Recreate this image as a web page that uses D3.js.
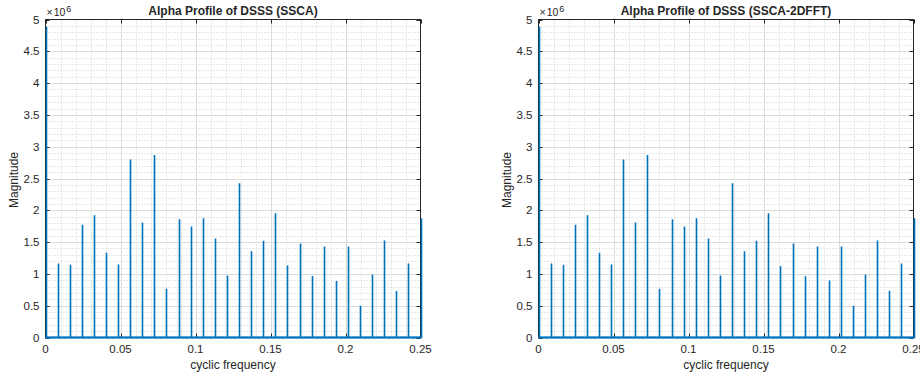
<!DOCTYPE html>
<html>
<head>
<meta charset="utf-8">
<script src="https://cdn.jsdelivr.net/npm/d3@7"></script>
<style>
  body { margin: 0; background: #fff; }
  svg { display: block; }
  text { font-family: "Liberation Sans", Arial, Helvetica, sans-serif; fill: #262626; }
</style>
</head>
<body>
<svg id="chart" width="920" height="376"></svg>
<script>
// Cyclic frequencies of the spectral lines (alpha)
const cyclicFreq = [0, 0.00806, 0.01613, 0.02419, 0.03226, 0.04032, 0.04839, 0.05645,
  0.06452, 0.07258, 0.08065, 0.08871, 0.09677, 0.10484, 0.11290, 0.12097,
  0.12903, 0.13710, 0.14516, 0.15323, 0.16129, 0.16935, 0.17742, 0.18548,
  0.19355, 0.20161, 0.20968, 0.21774, 0.22581, 0.23387, 0.24194, 0.25];

// Alpha profile magnitudes, in units of 1e6
const magSSCA = [4.89, 1.163, 1.142, 1.774, 1.921, 1.332, 1.147, 2.80,
  1.81, 2.868, 0.768, 1.858, 1.747, 1.874, 1.558, 0.974,
  2.426, 1.358, 1.521, 1.953, 1.132, 1.479, 0.968, 1.432,
  0.889, 1.432, 0.50, 0.989, 1.526, 0.732, 1.163, 1.874];

const magSSCA2DFFT = [4.89, 1.163, 1.142, 1.774, 1.921, 1.332, 1.147, 2.80,
  1.81, 2.868, 0.768, 1.858, 1.747, 1.874, 1.558, 0.974,
  2.426, 1.358, 1.521, 1.953, 1.126, 1.479, 0.963, 1.432,
  0.895, 1.432, 0.50, 0.989, 1.526, 0.737, 1.163, 1.874];

const xTicks = [0, 0.05, 0.1, 0.15, 0.2, 0.25];
const xTickLabels = ["0", "0.05", "0.1", "0.15", "0.2", "0.25"];
const yTicks = [0, 0.5, 1, 1.5, 2, 2.5, 3, 3.5, 4, 4.5, 5];
const yTickLabels = ["0", "0.5", "1", "1.5", "2", "2.5", "3", "3.5", "4", "4.5", "5"];

const svg = d3.select("#chart");
const lineColor = "#0072BD";
const axisColor = "#262626";

function drawPanel(left, title, values) {
  const x0 = left + 0.5, x1 = left + 375.5;
  const yTop = 19.5, yBot = 337.5;
  const x = d3.scaleLinear().domain([0, 0.25]).range([x0, x1]);
  const y = d3.scaleLinear().domain([0, 5]).range([yBot, yTop]);
  const g = svg.append("g");

  // minor grid (dotted)
  const xMinor = d3.range(0.01, 0.25, 0.01).filter(v => Math.abs(v / 0.05 - Math.round(v / 0.05)) > 1e-6);
  const yMinor = d3.range(0.1, 5, 0.1).filter(v => Math.abs(v / 0.5 - Math.round(v / 0.5)) > 1e-6);
  g.selectAll(".mx").data(xMinor).join("line")
    .attr("x1", d => Math.round(x(d)) + 0.5).attr("x2", d => Math.round(x(d)) + 0.5)
    .attr("y1", yTop).attr("y2", yBot)
    .attr("stroke", "#cfcfcf").attr("stroke-dasharray", "1,2");
  g.selectAll(".my").data(yMinor).join("line")
    .attr("y1", d => Math.round(y(d)) + 0.5).attr("y2", d => Math.round(y(d)) + 0.5)
    .attr("x1", x0).attr("x2", x1)
    .attr("stroke", "#cfcfcf").attr("stroke-dasharray", "1,2");

  // major grid
  g.selectAll(".gx").data(xTicks.slice(1, -1)).join("line")
    .attr("x1", d => Math.round(x(d)) + 0.5).attr("x2", d => Math.round(x(d)) + 0.5)
    .attr("y1", yTop).attr("y2", yBot)
    .attr("stroke", "#dcdcdc");
  g.selectAll(".gy").data(yTicks.slice(1, -1)).join("line")
    .attr("y1", d => Math.round(y(d)) + 0.5).attr("y2", d => Math.round(y(d)) + 0.5)
    .attr("x1", x0).attr("x2", x1)
    .attr("stroke", "#dcdcdc");

  // box
  g.append("rect").attr("x", x0).attr("y", yTop).attr("width", x1 - x0).attr("height", yBot - yTop)
    .attr("fill", "none").attr("stroke", axisColor).attr("stroke-width", 1);

  // inward tick marks on all four sides
  const tl = 4;
  xTicks.forEach(d => {
    const px = Math.round(x(d)) + 0.5;
    g.append("line").attr("x1", px).attr("x2", px).attr("y1", yBot).attr("y2", yBot - tl).attr("stroke", axisColor);
    g.append("line").attr("x1", px).attr("x2", px).attr("y1", yTop).attr("y2", yTop + tl).attr("stroke", axisColor);
  });
  yTicks.forEach(d => {
    const py = Math.round(y(d)) + 0.5;
    g.append("line").attr("x1", x0).attr("x2", x0 + tl).attr("y1", py).attr("y2", py).attr("stroke", axisColor);
    g.append("line").attr("x1", x1).attr("x2", x1 - tl).attr("y1", py).attr("y2", py).attr("stroke", axisColor);
  });

  // tick labels
  g.selectAll(".xl").data(xTicks).join("text")
    .attr("x", d => x(d)).attr("y", yBot + 7).attr("dy", "0.71em")
    .attr("text-anchor", "middle").attr("font-size", 11.5)
    .text((d, i) => xTickLabels[i]);
  g.selectAll(".yl").data(yTicks).join("text")
    .attr("x", x0 - 6).attr("y", d => y(d)).attr("dy", "0.35em")
    .attr("text-anchor", "end").attr("font-size", 11.5)
    .text((d, i) => yTickLabels[i]);

  // exponent label
  const ex = g.append("text").attr("x", x0 + 1).attr("y", 16).attr("font-size", 10.5);
  ex.append("tspan").text("\u00d7").attr("dx", 0);
  ex.append("tspan").attr("dx", 1).text("10");
  ex.append("tspan").attr("font-size", 9).attr("dx", 1).attr("dy", -4.5).text("6");

  // title and axis labels
  g.append("text").attr("x", (x0 + x1) / 2).attr("y", 14.5)
    .attr("text-anchor", "middle").attr("font-size", 12).attr("font-weight", "bold")
    .attr("fill", "#000").text(title);
  g.append("text").attr("x", (x0 + x1) / 2).attr("y", 368.5)
    .attr("text-anchor", "middle").attr("font-size", 12).text("cyclic frequency");
  g.append("text").attr("transform", `translate(${left - 27},${180}) rotate(-90)`)
    .attr("text-anchor", "middle").attr("font-size", 12).text("Magnitude");

  // spectral lines
  const pts = [];
  cyclicFreq.forEach((f, i) => { pts.push([f, 0], [f, values[i]], [f, 0]); });
  const line = d3.line().x(d => Math.round(x(d[0])) + 0.5).y(d => y(d[1]));
  g.append("path").attr("d", line(pts))
    .attr("fill", "none").attr("stroke", lineColor).attr("stroke-width", 1.6);
  // baseline of the profile
  g.append("line").attr("x1", x(0)).attr("x2", x(0.25)).attr("y1", y(0)).attr("y2", y(0))
    .attr("stroke", lineColor).attr("stroke-width", 2);
}

drawPanel(45, "Alpha Profile of DSSS (SSCA)", magSSCA);
drawPanel(538, "Alpha Profile of DSSS (SSCA-2DFFT)", magSSCA2DFFT);
</script>
</body>
</html>
